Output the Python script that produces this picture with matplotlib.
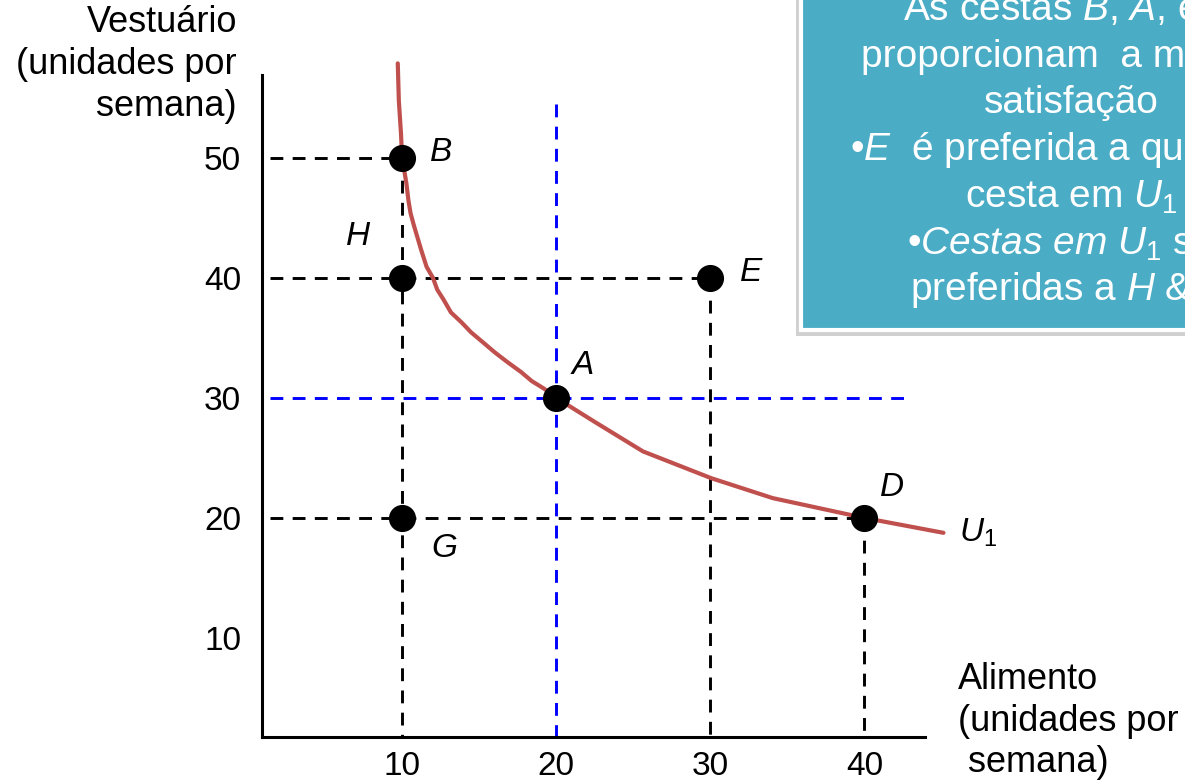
import matplotlib
matplotlib.use("Agg")
import matplotlib.pyplot as plt
from matplotlib.patches import Rectangle

plt.rcParams['font.family'] = ['Liberation Sans', 'DejaVu Sans']
plt.rcParams['mathtext.fontset'] = 'custom'
plt.rcParams['mathtext.rm'] = 'Liberation Sans'
plt.rcParams['mathtext.it'] = 'Liberation Sans:italic'
plt.rcParams['mathtext.bf'] = 'Liberation Sans:bold'

# ---- data ----
x_ticks = [10, 20, 30, 40]
y_ticks = [10, 20, 30, 40, 50]

point_names = ["B", "H", "E", "A", "D", "G"]
point_x = [10, 10, 30, 20, 40, 10]
point_y = [50, 40, 40, 30, 20, 20]

# indifference curve U1
curve_x = [9.72, 9.79, 9.93, 10.0, 10.28, 10.41, 10.55, 10.76, 10.97, 11.24,
           11.59, 12.0, 12.28, 12.69, 13.17, 13.86, 14.48, 15.24, 16.0, 16.83,
           17.72, 18.41, 19.24, 20.0, 22.47, 25.63, 30.06, 34.05, 40.0, 45.13]
curve_y = [57.85, 54.71, 51.98, 50.0, 47.85, 46.45, 45.37, 44.38, 43.47, 42.31,
           40.91, 40.0, 39.01, 38.18, 37.11, 36.28, 35.45, 34.63, 33.80, 32.98,
           32.15, 31.40, 30.74, 30.0, 28.02, 25.54, 23.31, 21.65, 20.0, 18.76]

box_lines = [r"As cestas $B$, $A$, e $D$",
             "proporcionam  a mesma",
             "satisfação",
             r"•$E$  é preferida a qualquer",
             r"cesta em $U_{\mathit{1}}$",
             r"•$Cestas\ em\ U_{\mathit{1}}$ são",
             r"preferidas a $H$ & $G$"]

# ---- figure ----
W, H = 1185, 784
fig = plt.figure(figsize=(W / 100, H / 100), dpi=100)
ax = fig.add_axes([262 / W, (H - 737) / H, (925 - 262) / W, (737 - 75) / H])
ax.set_xlim(0.91, 43.93)
ax.set_ylim(1.76, 56.88)
for s in ["top", "right"]:
    ax.spines[s].set_visible(False)
for s in ["left", "bottom"]:
    ax.spines[s].set_linewidth(2.2)
ax.set_xticks(x_ticks)
ax.set_xticklabels([str(v) for v in x_ticks], fontsize=24)
ax.set_yticks(y_ticks)
ax.set_yticklabels([str(v) for v in y_ticks], fontsize=24)
ax.tick_params(length=0)
ax.tick_params(axis='x', pad=10)
ax.tick_params(axis='y', pad=15)

x0 = ax.get_xlim()[0] + 0.55
y0 = ax.get_ylim()[0]
dash = dict(lw=2.1, dashes=(4.4, 3.2))
px = dict(zip(point_names, zip(point_x, point_y)))
bx, by = px["B"]; ex, ey = px["E"]; dx_, dy_ = px["D"]; axx, ayy = px["A"]
# black guides
ax.plot([x0, bx], [by, by], color='black', **dash)
ax.plot([x0, ex], [ey, ey], color='black', **dash)
ax.plot([x0, dx_], [dy_, dy_], color='black', **dash)
ax.plot([bx, bx], [by, y0], color='black', **dash)
ax.plot([ex, ex], [ey, y0], color='black', **dash)
ax.plot([dx_, dx_], [dy_, y0], color='black', **dash)
# blue guides
ax.plot([axx, axx], [54.46, y0], color='#0000ff', **dash)
ax.plot([x0, 42.67], [ayy, ayy], color='#0000ff', **dash)

# curve
ax.plot(curve_x, curve_y, color='#c0504d', lw=3.0, clip_on=False,
        solid_capstyle='round', solid_joinstyle='round', zorder=3)

# points
ax.plot(point_x, point_y, 'o', color='black', ms=18.5, zorder=4)

offsets = {"B": (20, 4, 'left'), "H": (-32, 30, 'center'), "E": (21, 4, 'left'),
           "A": (11, 23, 'left'), "D": (11, 22, 'left'), "G": (21, -22, 'left')}
for n, (xx, yy) in zip(point_names, zip(point_x, point_y)):
    ox, oy, ha = offsets[n]
    ax.annotate(n, (xx, yy), xytext=(ox, oy), textcoords='offset points',
                ha=ha, va='center', fontsize=24, style='italic')
ax.annotate(r"$U_{\mathit{1}}$", (curve_x[-1], curve_y[-1]), xytext=(11, 0),
            textcoords='offset points', ha='left', va='center', fontsize=24,
            annotation_clip=False)

# axis titles
fig.text(237 / W, 1 - 5 / H, "Vestuário\n(unidades por\nsemana)", ha='right',
         va='top', multialignment='right', fontsize=26, linespacing=1.25)
fig.text(958 / W, 1 - 662 / H, "Alimento\n(unidades por\n semana)", ha='left',
         va='top', multialignment='left', fontsize=26, linespacing=1.25)

# text box
fig.patches.append(Rectangle((796 / W, (H - 336) / H), 500 / W, 400 / H,
                             transform=fig.transFigure, facecolor='#d0d0d0',
                             edgecolor='none', zorder=1))
fig.patches.append(Rectangle((801 / W, (H - 330) / H), 500 / W, 400 / H,
                             transform=fig.transFigure, facecolor='#4bacc6',
                             edgecolor='white', lw=3, zorder=2))
line_y = [10, 57, 103, 150, 197, 244, 290]
for t, yy in zip(box_lines, line_y):
    fig.text(1071 / W, 1 - yy / H, t, ha='center', va='center', fontsize=28,
             color='white', zorder=5)

fig.savefig("out.png", dpi=100)
